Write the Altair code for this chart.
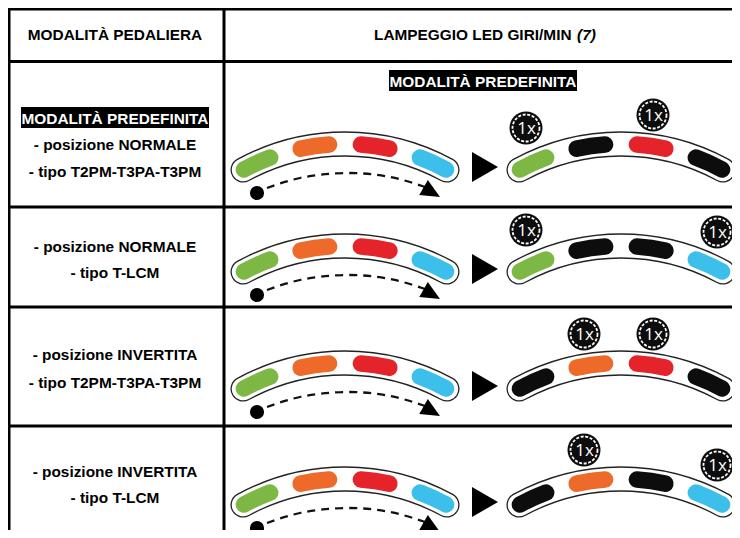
import math
import altair as alt
import pandas as pd

# ------------------------------------------------------------------
# Content
# ------------------------------------------------------------------
HEADER_LEFT = "MODALITÀ PEDALIERA"
HEADER_RIGHT = "LAMPEGGIO LED GIRI/MIN"
HEADER_NOTE = "(7)"
DEFAULT_LABEL = "MODALITÀ PREDEFINITA"
ROW_TEXT = [
    ["- posizione NORMALE", "- tipo T2PM-T3PA-T3PM"],
    ["- posizione NORMALE", "- tipo T-LCM"],
    ["- posizione INVERTITA", "- tipo T2PM-T3PA-T3PM"],
    ["- posizione INVERTITA", "- tipo T-LCM"],
]
LED_SEQUENCE = ["green", "orange", "red", "blue"]
FLASH_STATES = [
    ["green", "off", "red", "off"],
    ["green", "off", "off", "blue"],
    ["off", "orange", "red", "off"],
    ["off", "orange", "off", "blue"],
]
BADGE_LEDS = [[0, 2], [0, 3], [1, 2], [1, 3]]
BADGE_TEXT = "1x"
LED_NAMES = ["green", "orange", "red", "blue", "off"]
LED_COLORS = ["#7cb843", "#ee6a2a", "#e4232b", "#3cbfeb", "#0d0d0d"]

# ------------------------------------------------------------------
# Layout (pixel space of the page; data coords = screen pixels)
# ------------------------------------------------------------------
W, H = 724, 522
XS = alt.Scale(domain=[8, 8 + W], nice=False, zero=False)
YS = alt.Scale(domain=[8, 8 + H], nice=False, zero=False, reverse=True)

TABLE_LEFT, COL_DIV, TABLE_TOP, TABLE_RIGHT, TABLE_BOTTOM = 9, 224, 9, 740, 540
ROW_RULES = [61.5, 207, 307, 426]
COL1_X = 115
HEADER_Y = 35
HEADER_RIGHT_X, HEADER_NOTE_X = 374, 577
ROW_TEXT_Y = [[145, 172], [247, 273], [355, 383], [472, 498]]
LABEL_BOXES = [(21, 209, 107, 128), (389, 577, 70, 91)]
FONT_SIZE = 15.4

STRIP_TOP = [132, 234, 351, 467]
STRIP_CX = [345, 621]
TRI_X, TRI_DY = 485, 35
R_MID, BAND_HALF, LED_HALF = 213, 12, 8.25
LED_CENTER_DEG = [-24.45, -8.15, 8.15, 24.45]
LED_SPAN_DEG = 12.2
BAND_DEG = 31.8
BADGE_DX = [-95, -37, 32, 96]
BADGE_DY = [-4, -17, -17, -2]
DASH_X = [267, 300, 345, 390, 425]
DASH_DY = [56, 46, 41, 45, 55]
DOT_X, DOT_DY = 257, 61
ARROW_TIP_X, ARROW_TIP_DY, ARROW_ANGLE, ARROW_LEN = 440, 65, 30, 19


def rad(d):
    return d * math.pi / 180.0


# ------------------------------------------------------------------
# Build tables
# ------------------------------------------------------------------
rules = []
for y in [TABLE_TOP] + ROW_RULES:
    rules.append(dict(x1=TABLE_LEFT, x2=TABLE_RIGHT, y1=y, y2=y))
for x in [TABLE_LEFT, COL_DIV]:
    rules.append(dict(x1=x, x2=x, y1=TABLE_TOP, y2=TABLE_BOTTOM))
rules_df = pd.DataFrame(rules)

bands, leds, badges, tris, dashes, dots, arrows = [], [], [], [], [], [], []
for r in range(4):
    top = STRIP_TOP[r]
    cy = top + BAND_HALF + R_MID
    for s, cx in enumerate(STRIP_CX):
        bands.append(dict(cx=cx, cy=cy, t0=rad(-BAND_DEG), t1=rad(BAND_DEG),
                          r0=R_MID - BAND_HALF, r1=R_MID + BAND_HALF))
        states = LED_SEQUENCE if s == 0 else FLASH_STATES[r]
        for i, c in enumerate(states):
            leds.append(dict(cx=cx, cy=cy,
                             t0=rad(LED_CENTER_DEG[i] - LED_SPAN_DEG / 2),
                             t1=rad(LED_CENTER_DEG[i] + LED_SPAN_DEG / 2),
                             r0=R_MID - LED_HALF, r1=R_MID + LED_HALF, led=c))
    for i in BADGE_LEDS[r]:
        badges.append(dict(x=STRIP_CX[1] + BADGE_DX[i], y=top + BADGE_DY[i], t=BADGE_TEXT))
    tris.append(dict(x=TRI_X, y=top + TRI_DY))
    for k, (dx, dy) in enumerate(zip(DASH_X, DASH_DY)):
        dashes.append(dict(row=r, k=k, x=dx, y=top + dy))
    dots.append(dict(x=DOT_X, y=top + DOT_DY))
    half = ARROW_LEN / 2
    arrows.append(dict(x=ARROW_TIP_X - half * math.cos(rad(ARROW_ANGLE)),
                       y=top + ARROW_TIP_DY - half * math.sin(rad(ARROW_ANGLE))))

bands_df = pd.DataFrame(bands)
leds_df = pd.DataFrame(leds)
badges_df = pd.DataFrame(badges)
tris_df = pd.DataFrame(tris)
dashes_df = pd.DataFrame(dashes)
dots_df = pd.DataFrame(dots)
arrows_df = pd.DataFrame(arrows)

left_text = []
for r in range(4):
    for j, t in enumerate(ROW_TEXT[r]):
        left_text.append(dict(x=COL1_X, y=ROW_TEXT_Y[r][j], t=t))
left_text.append(dict(x=COL1_X, y=HEADER_Y, t=HEADER_LEFT))
left_text_df = pd.DataFrame(left_text)

boxes_df = pd.DataFrame([dict(x1=a, x2=b, y1=c, y2=d) for a, b, c, d in LABEL_BOXES])
box_text_df = pd.DataFrame([dict(x=(a + b) / 2, y=(c + d) / 2 + 1, t=DEFAULT_LABEL)
                            for a, b, c, d in LABEL_BOXES])

FONT = "Liberation Sans"


def pos(xf="x", yf="y"):
    return dict(x=alt.X(f"{xf}:Q", scale=XS, axis=None),
                y=alt.Y(f"{yf}:Q", scale=YS, axis=None))


def arc_enc():
    return dict(
        x=alt.X("cx:Q", scale=XS, axis=None),
        y=alt.Y("cy:Q", scale=YS, axis=None),
        theta=alt.Theta("t0:Q", scale=None, stack=None),
        theta2=alt.Theta2("t1:Q"),
        radius=alt.Radius("r1:Q", scale=None, stack=None),
        radius2=alt.Radius2("r0:Q"),
    )


rule_layer = alt.Chart(rules_df).mark_rule(color="#000000", strokeWidth=3, strokeCap="square").encode(
    x=alt.X("x1:Q", scale=XS, axis=None), x2="x2:Q",
    y=alt.Y("y1:Q", scale=YS, axis=None), y2="y2:Q")

band_outer = alt.Chart(bands_df).mark_arc(
    cornerRadius=BAND_HALF, fill="#ffffff", stroke="#222222", strokeWidth=1.3
).encode(**arc_enc())

led_layer = alt.Chart(leds_df).mark_arc(cornerRadius=LED_HALF, strokeWidth=0).encode(
    color=alt.Color("led:N", scale=alt.Scale(domain=LED_NAMES, range=LED_COLORS), legend=None),
    **arc_enc())

tri_layer = alt.Chart(tris_df).mark_point(
    shape="M -0.867 -1 L 0.867 0 L -0.867 1 Z", filled=True, color="#000000", size=900, opacity=1
).encode(**pos())

dash_layer = alt.Chart(dashes_df).mark_line(
    color="#111111", strokeWidth=2.3, strokeDash=[8, 6], interpolate="natural"
).encode(detail="row:N", order="k:Q", **pos())

dot_layer = alt.Chart(dots_df).mark_point(
    shape="circle", filled=True, color="#000000", size=200, opacity=1).encode(**pos())

arrow_layer = alt.Chart(arrows_df).mark_point(
    shape="M 1 0 L -1 -0.9 L -1 0.9 Z", filled=True, color="#000000",
    size=ARROW_LEN ** 2, angle=ARROW_ANGLE, opacity=1).encode(**pos())

badge_disk = alt.Chart(badges_df).mark_point(
    shape="circle", filled=True, color="#0d0d0d", size=33 ** 2, opacity=1).encode(**pos())
badge_ring = alt.Chart(badges_df).mark_point(
    shape="circle", filled=False, stroke="#ffffff", strokeWidth=1.8, strokeDash=[3, 1.6],
    size=27 ** 2, opacity=1).encode(**pos())
badge_text = alt.Chart(badges_df).mark_text(
    font="Open Sans", fontSize=17, color="#ffffff", align="center", baseline="middle", dx=0.5, dy=0.5
).encode(text="t:N", **pos())

box_layer = alt.Chart(boxes_df).mark_rect(color="#000000").encode(
    x=alt.X("x1:Q", scale=XS, axis=None), x2="x2:Q",
    y=alt.Y("y1:Q", scale=YS, axis=None), y2="y2:Q")
box_text = alt.Chart(box_text_df).mark_text(
    font=FONT, fontSize=FONT_SIZE, fontWeight="bold", color="#ffffff", align="center", baseline="middle"
).encode(text="t:N", **pos())

left_text_layer = alt.Chart(left_text_df).mark_text(
    font=FONT, fontSize=FONT_SIZE, fontWeight="bold", color="#000000", align="center", baseline="middle"
).encode(text="t:N", **pos())

hdr_df = pd.DataFrame([dict(x=HEADER_RIGHT_X, y=HEADER_Y, t=HEADER_RIGHT)])
hdr_layer = alt.Chart(hdr_df).mark_text(
    font=FONT, fontSize=FONT_SIZE, fontWeight="bold", color="#000000", align="left", baseline="middle"
).encode(text="t:N", **pos())
note_df = pd.DataFrame([dict(x=HEADER_NOTE_X, y=HEADER_Y, t=HEADER_NOTE)])
note_layer = alt.Chart(note_df).mark_text(
    font=FONT, fontSize=FONT_SIZE, fontWeight="bold", fontStyle="italic", color="#000000",
    align="left", baseline="middle"
).encode(text="t:N", **pos())

chart = alt.layer(
    rule_layer, band_outer, led_layer, tri_layer, dash_layer, dot_layer, arrow_layer,
    badge_disk, badge_ring, badge_text, box_layer, box_text, left_text_layer, hdr_layer, note_layer
).properties(
    width=W, height=H, padding=0, background="#ffffff",
    autosize=alt.AutoSizeParams(type="none")
).configure_view(stroke=None)

chart.save("out.html", embed_options={"renderer": "svg", "actions": False})
